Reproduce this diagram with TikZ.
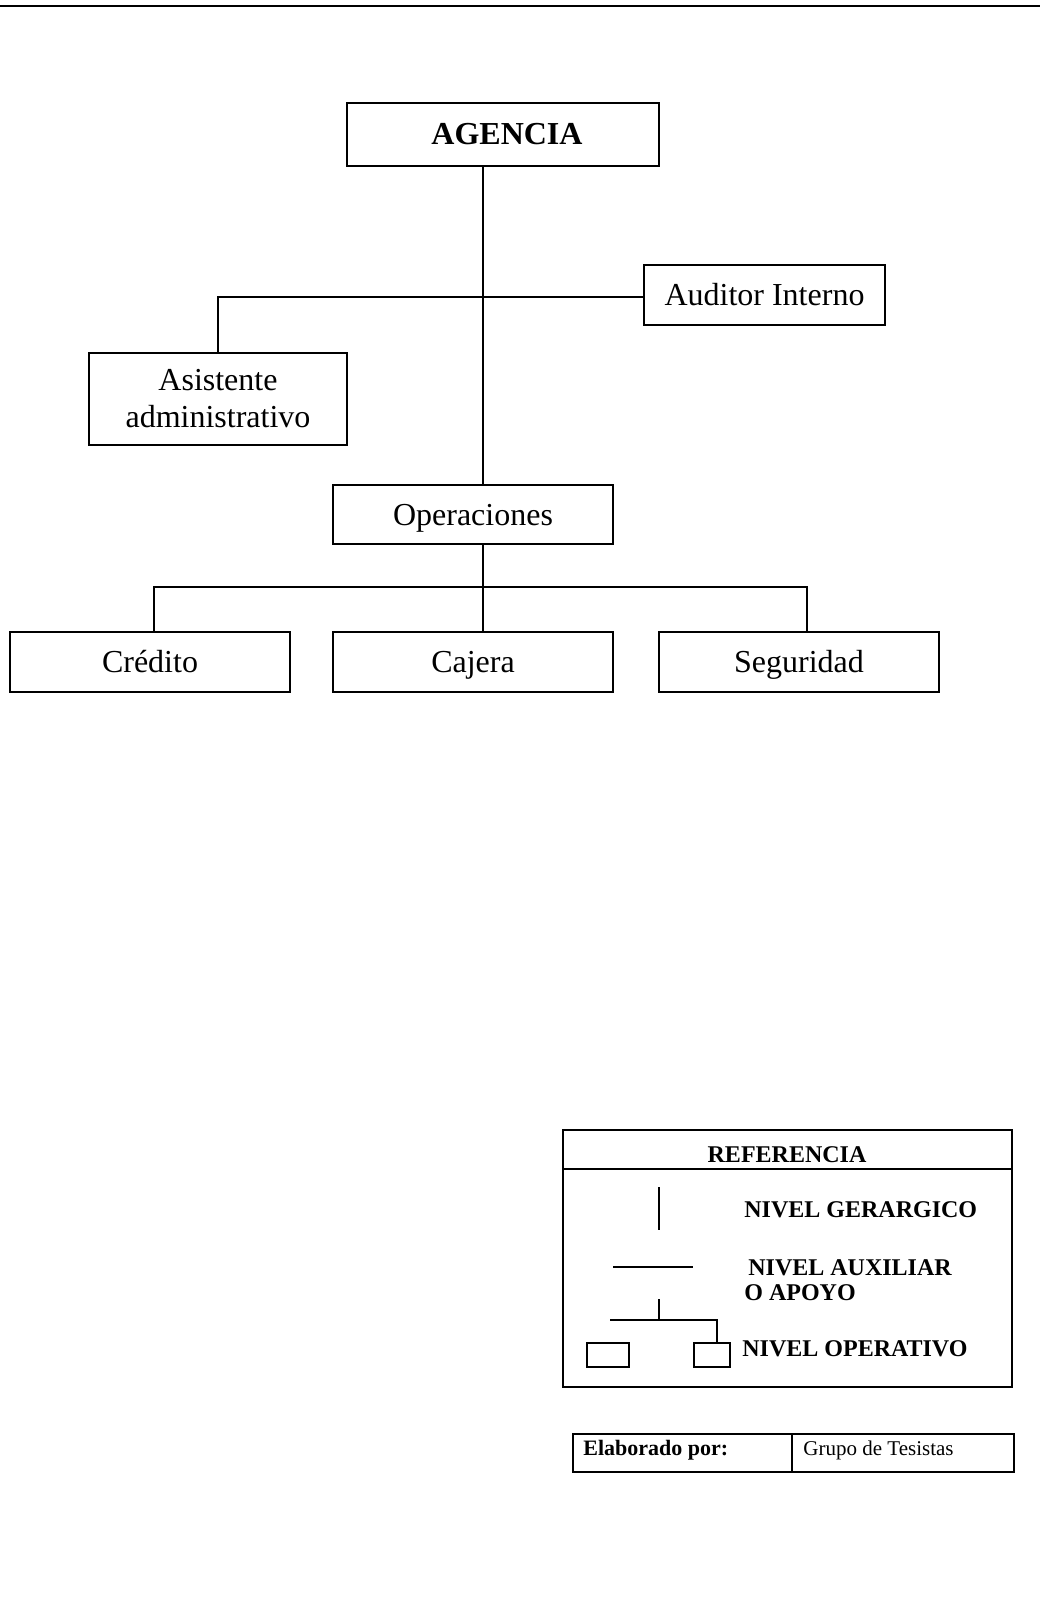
\documentclass[tikz,border=0pt]{standalone}
\usepackage{fontspec}
\setmainfont{Liberation Serif}
\tikzset{
  box/.style={draw, line width=0.8pt, inner sep=0pt, align=center, font=\fontsize{16}{18.5}\selectfont},
  oneline/.style={text height=13pt, text depth=2.5pt},
  link/.style={line width=0.8pt},
  legline/.style={line width=1pt},
  legtext/.style={anchor=west, inner sep=0pt, align=left, font=\bfseries\fontsize{12}{12.5}\selectfont},
}

\begin{document}
\begin{tikzpicture}[x=0.5pt,y=-0.5pt]
      \useasboundingbox (0,0) rectangle (1040,1610);
      %% Top rule
      \coordinate (ruleL) at (0,6);
      \coordinate (ruleR) at (1040,6);
      \draw[line width=1.3pt] (ruleL) -- (ruleR);
      %% Boxes
      \node[box,oneline,minimum width=156pt,minimum height=31.5pt,font=\bfseries\fontsize{16}{18.5}\selectfont] (agencia) at (503,134.5) {\hspace*{4pt}AGENCIA};
      \node[box,oneline,minimum width=120.5pt,minimum height=30pt] (auditor) at (764.5,295) {Auditor Interno};
      \node[box,minimum width=129pt,minimum height=46pt] (asistente) at (218,399) {Asistente\\administrativo};
      \node[box,oneline,minimum width=140pt,minimum height=29.5pt] (operaciones) at (473,514.5) {Operaciones};
      \node[box,oneline,minimum width=140pt,minimum height=30pt] (credito) at (150,662) {Crédito};
      \node[box,oneline,minimum width=140pt,minimum height=30pt] (cajera) at (473,662) {Cajera};
      \node[box,oneline,minimum width=140pt,minimum height=30pt] (seguridad) at (799,662) {Seguridad};
      %% Branch points
      \coordinate (hub) at (483,297);
      \coordinate (split) at (483,587);
      \coordinate (lbranch) at (154,587);
      \coordinate (rbranch) at (807,587);
      %% Vertical lines
      \draw[link] (agencia.south -| hub) -- (operaciones.north -| hub);
      \draw[link] (operaciones.south -| split) -- (cajera.north -| split);
      %% Horizontal lines
      \draw[link] (asistente.north) |- (hub) -- (auditor.west |- hub);
      \draw[link] (credito.north -| lbranch) -- (lbranch) -- (rbranch) -- (seguridad.north -| rbranch);
      %% Legend
      \node[draw,line width=1pt,minimum width=224.5pt,minimum height=128.5pt,inner sep=0pt] (legend) at (787.5,1258.5) {};
      \coordinate (hdr) at (787,1169);
      \draw[legline] (legend.west |- hdr) -- (legend.east |- hdr);
      \node[inner sep=0pt,font=\bfseries\fontsize{12}{12.5}\selectfont] (reftitle) at (787,1155) {REFERENCIA};
      \coordinate (gerA) at (659,1187);
      \coordinate (gerB) at (659,1230);
      \draw[legline] (gerA) -- (gerB);
      \node[legtext] (gertext) at (744,1210) {NIVEL GERARGICO};
      \coordinate (auxA) at (613,1267);
      \coordinate (auxB) at (693,1267);
      \draw[legline] (auxA) -- (auxB);
      \node[legtext] (auxtext) at (744,1280) {\,NIVEL AUXILIAR\\O APOYO};
      \node[draw,line width=1pt,minimum width=21pt,minimum height=12pt,inner sep=0pt] (legbox1) at (608,1355) {};
      \node[draw,line width=1pt,minimum width=18pt,minimum height=12pt,inner sep=0pt] (legbox2) at (712,1355) {};
      \coordinate (optop) at (659,1299);
      \coordinate (opmid) at (659,1320);
      \coordinate (opleft) at (610,1320);
      \coordinate (opright) at (717,1320);
      \draw[legline] (optop) -- (opmid);
      \draw[legline] (opleft) -- (opright) -- (legbox2.north -| opright);
      \node[legtext] (optext) at (742,1349) {NIVEL OPERATIVO};
      %% Elaborado por
      \node[draw,line width=1pt,minimum width=109.5pt,minimum height=19pt,inner sep=0pt] (elabcell) at (682.5,1453) {};
      \node[draw,line width=1pt,minimum width=111pt,minimum height=19pt,inner sep=0pt] (grupocell) at (903,1453) {};
      \node[anchor=west,inner sep=0pt,font=\bfseries\fontsize{11}{12}\selectfont] (elabtext) at (583,1450) {Elaborado por:};
      \node[anchor=west,inner sep=0pt,font=\fontsize{10.5}{12}\selectfont] (grupotext) at (803,1450) {Grupo de Tesistas};
\end{tikzpicture}
\end{document}
